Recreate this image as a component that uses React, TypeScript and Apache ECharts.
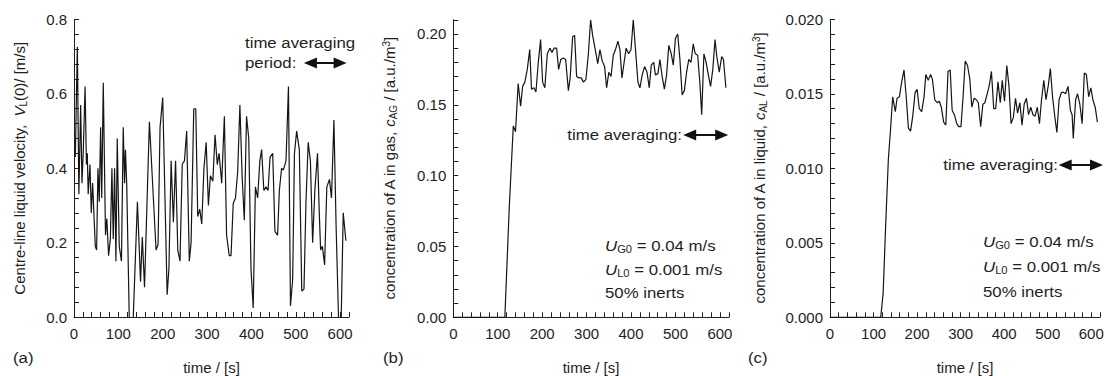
import React, { useEffect, useRef } from "react";
import * as echarts from "echarts";

// ---- data: [time s, value] ----
const velocityA: number[][] = [
  [3, 0.43], [7.5, 0.727], [11, 0.33], [15, 0.57], [18, 0.36], [21, 0.45], [25, 0.62], [28, 0.41],
  [30, 0.44], [32, 0.33], [36, 0.41], [39, 0.28], [42, 0.36], [48, 0.19], [51, 0.18], [54, 0.4],
  [57, 0.31], [60, 0.51], [62.5, 0.32], [66, 0.63], [71, 0.22], [74, 0.265], [78, 0.165], [82, 0.21],
  [85.5, 0.4], [88.5, 0.21], [91.5, 0.4], [94.5, 0.15], [97.5, 0.48], [102, 0.19], [107, 0.15],
  [111, 0.51], [114, 0.36], [116, 0.45], [119, 0.35], [125, -0.03], [133, -0.02], [143, 0.31],
  [150, 0.095], [154, 0.215], [159, 0.08], [170, 0.525], [185, 0.18], [189.5, 0.195], [194, 0.51],
  [200, 0.59], [210, 0.06], [214, 0.13], [219, 0.42], [224, 0.255], [229, 0.42], [234, 0.18],
  [239, 0.15], [244, 0.41], [249, 0.42], [254, 0.5], [260, 0.15], [264, 0.2], [270, 0.56],
  [274.5, 0.56], [279, 0.27], [283.5, 0.29], [288, 0.25], [293, 0.4], [298, 0.47], [303, 0.3],
  [307.5, 0.38], [313, 0.365], [318, 0.49], [323, 0.41], [327, 0.44], [333, 0.36], [339, 0.54],
  [344, 0.22], [350, 0.165], [354, 0.165], [359, 0.305], [364, 0.32], [369, 0.39], [374, 0.57],
  [379, 0.38], [384, 0.26], [389, 0.54], [394, 0.48], [399, 0.13], [404, 0.024], [409, 0.35],
  [414, 0.32], [419, 0.42], [423, 0.45], [428, 0.34], [433, 0.35], [437.5, 0.34], [442, 0.43],
  [448, 0.44], [453, 0.23], [459, 0.22], [463, 0.34], [468, 0.4], [472, 0.395], [478, 0.42],
  [483.5, 0.62], [488, 0.03], [493, 0.1], [497, 0.44], [502, 0.5], [508, 0.45], [513.5, 0.07],
  [518.5, 0.075], [523, 0.31], [528, 0.47], [533, 0.42], [538, 0.2], [543, 0.34], [549, 0.44],
  [553, 0.28], [556, 0.18], [560, 0.19], [565, 0.14], [570, 0.35], [576, 0.37], [580.5, 0.32],
  [586, 0.53], [591, 0.24], [597, -0.03], [602, -0.03], [607, 0.28], [613, 0.205],
];

const gasB: number[][] = [
  [0, 0], [116, 0], [126, 0.078], [135, 0.135], [140, 0.131], [146, 0.165], [151.5, 0.149],
  [156, 0.163], [161, 0.166], [166.5, 0.175], [172, 0.189], [176, 0.161], [181.5, 0.162],
  [186, 0.159], [191, 0.179], [196.5, 0.196], [201, 0.166], [206, 0.162], [211.5, 0.186],
  [217.5, 0.19], [222, 0.187], [227, 0.19], [232.5, 0.19], [237, 0.175], [242, 0.182],
  [247.5, 0.183], [252.8, 0.182], [259, 0.16], [263, 0.169], [268.5, 0.198], [273, 0.199],
  [277.5, 0.17], [283, 0.169], [288, 0.169], [293, 0.166], [298.5, 0.168], [304, 0.186],
  [309, 0.21], [313.5, 0.199], [319.5, 0.189], [325, 0.179], [330, 0.189], [335, 0.181],
  [340.5, 0.177], [345, 0.162], [350, 0.173], [355, 0.17], [360, 0.185], [365, 0.189],
  [370.5, 0.195], [375, 0.189], [379.5, 0.169], [384, 0.179], [389, 0.19], [394.5, 0.186],
  [400, 0.189], [405, 0.21], [410, 0.189], [415.5, 0.166], [420, 0.162], [425, 0.171],
  [430.5, 0.177], [436, 0.173], [441, 0.162], [445.5, 0.178], [451, 0.18], [455, 0.171],
  [460.5, 0.172], [465, 0.182], [470, 0.17], [475, 0.161], [480, 0.171], [485, 0.192],
  [490.5, 0.186], [495, 0.178], [500, 0.197], [505, 0.2], [510, 0.182], [515, 0.157],
  [520, 0.16], [525, 0.173], [530, 0.182], [535, 0.18], [540, 0.193], [544.5, 0.186],
  [550, 0.185], [555, 0.165], [559, 0.143], [564, 0.186], [569, 0.18], [574, 0.171],
  [579, 0.163], [584, 0.175], [589, 0.196], [593, 0.184], [598.5, 0.173], [604, 0.184],
  [608, 0.182], [613.5, 0.162],
];

const liquidC: number[][] = [
  [0, 0], [116.5, 0], [122, 0.0016], [128, 0.0063], [134, 0.0106], [139, 0.0126], [144, 0.0148],
  [150, 0.0138], [154, 0.0147], [159.4, 0.0148], [164.6, 0.0158], [170, 0.0166], [175, 0.0148],
  [180, 0.0127], [185, 0.0125], [190, 0.0135], [195.5, 0.0151], [200, 0.0153], [205, 0.014],
  [210.5, 0.0138], [216, 0.0148], [220, 0.0163], [225.5, 0.0159], [231, 0.0163], [235, 0.016],
  [240.6, 0.0146], [246, 0.0144], [251, 0.0145], [255.6, 0.0141], [261, 0.0131], [266, 0.0129],
  [271, 0.0165], [276, 0.0166], [280.5, 0.0139], [285.7, 0.0136], [291, 0.013], [295.5, 0.0128],
  [300.8, 0.0128], [306, 0.015], [310.5, 0.0172], [315.8, 0.0169], [321, 0.016], [325.6, 0.0141],
  [331, 0.0147], [336, 0.0146], [340.6, 0.0144], [346, 0.0128], [351, 0.0143], [355.6, 0.0144],
  [361, 0.015], [366, 0.0156], [370.7, 0.0165], [376, 0.014], [380.5, 0.014], [385.7, 0.0158],
  [391, 0.0144], [395.5, 0.0159], [400.8, 0.0145], [406, 0.0169], [411, 0.0155], [415.8, 0.013],
  [421, 0.0134], [426, 0.0147], [430.8, 0.0137], [436, 0.0144], [441, 0.0129], [445.9, 0.0143],
  [451, 0.0147], [456, 0.0136], [461, 0.0141], [466, 0.0136], [471, 0.0135], [476, 0.0141],
  [481, 0.013], [485.7, 0.0146], [491, 0.0159], [496, 0.0146], [501.5, 0.0156], [506, 0.0167],
  [511, 0.0148], [516.5, 0.0134], [521, 0.0124], [526, 0.0146], [531.6, 0.0151], [536, 0.0151],
  [541, 0.015], [546.6, 0.0155], [552, 0.0139], [556, 0.0136], [558.6, 0.012], [564, 0.0146],
  [568.4, 0.015], [573.7, 0.0143], [579, 0.013], [584, 0.0164], [588.7, 0.0163], [594, 0.0148],
  [599, 0.0154], [603.7, 0.0146], [609, 0.0141], [614, 0.0131],
];

// time-averaging arrows: [start, end, level]
const avgArrowA = [533, 600, 0.683];
const avgArrowB = [532, 604, 0.1287];
const avgArrowC = [540, 612, 0.01022];

const FONT = "Liberation Sans, Arial, sans-serif";
const INK = "#1e1e1e";
const SX = 1.12; // horizontal stretch of annotation texts

const isMult = (v: number, step: number) => Math.abs(v / step - Math.round(v / step)) < 1e-6;

const tick = { axisTick: { show: true, inside: true, length: 5, lineStyle: { color: INK, width: 1 } } };

function xAxisFor(gridIndex: number) {
  return {
    type: "value",
    gridIndex,
    min: 0,
    max: 620,
    interval: 20,
    name: "time / [s]",
    nameLocation: "middle",
    nameGap: 43,
    nameTextStyle: { fontFamily: FONT, fontSize: 15, color: INK, fontWeight: "normal" },
    axisLine: { show: true, onZero: false, lineStyle: { color: INK, width: 1 } },
    ...tick,
    axisLabel: {
      margin: 9,
      fontFamily: FONT,
      fontSize: 15,
      color: INK,
      formatter: (v: number) => (isMult(v, 100) ? String(Math.round(v)) : ""),
    },
    splitLine: { show: false },
  };
}

function yAxisFor(gridIndex: number, max: number, interval: number, labelStep: number, decimals: number, name: string, nameGap: number) {
  return {
    type: "value",
    gridIndex,
    min: 0,
    max,
    interval,
    name,
    nameLocation: "middle",
    nameRotate: 90,
    nameGap,
    nameTextStyle: {
      fontFamily: FONT,
      fontSize: 15,
      color: INK,
      fontWeight: "normal",
      rich: {
        i: { fontFamily: FONT, fontSize: 15, fontStyle: "italic", color: INK },
        sub: { fontFamily: FONT, fontSize: 10, color: INK, padding: [7, 0, 0, 0] },
        sup: { fontFamily: FONT, fontSize: 10, color: INK, padding: [0, 0, 7, 0] },
      },
    },
    axisLine: { show: true, onZero: false, lineStyle: { color: INK, width: 1 } },
    ...tick,
    axisLabel: {
      margin: 7,
      fontFamily: FONT,
      fontSize: 15,
      color: INK,
      formatter: (v: number) => (isMult(v, labelStep) ? v.toFixed(decimals) : ""),
    },
    splitLine: { show: false },
  };
}

function arrowLine(a: number[]) {
  return {
    silent: true,
    symbol: ["triangle", "triangle"],
    symbolSize: [11, 13],
    label: { show: false },
    lineStyle: { color: "#111", width: 2, type: "solid" },
    data: [[{ coord: [a[0], a[2]] }, { coord: [a[1], a[2]] }]],
  };
}

function txt(text: string, x: number, y: number, align = "left", rich?: any) {
  return {
    type: "text",
    x,
    y,
    scaleX: SX,
    silent: true,
    style: {
      text,
      fill: INK,
      fontFamily: FONT,
      fontSize: 15,
      align,
      verticalAlign: "middle",
      rich,
    },
  };
}

const uRich = {
  i: { fontFamily: FONT, fontSize: 15, fontStyle: "italic", fill: INK, color: INK },
  s: { fontFamily: FONT, fontSize: 10, fill: INK, color: INK, padding: [7, 0, 0, 0] },
};

export default function App() {
  const ref = useRef<HTMLDivElement>(null);
  useEffect(() => {
    if (!ref.current) return;
    const chart = echarts.init(ref.current, undefined, { renderer: "svg" });
    const lineStyle = { color: "#151515", width: 1.2 };
    const g = { containLabel: false, outerBoundsMode: "none" };
    chart.setOption({
      animation: false,
      backgroundColor: "#fff",
      grid: [
        { ...g, left: 74, top: 19.5, width: 275, height: 297.5 },
        { ...g, left: 453.3, top: 19.8, width: 275.5, height: 297.5 },
        { ...g, left: 830, top: 19.3, width: 270, height: 298 },
      ],
      xAxis: [xAxisFor(0), xAxisFor(1), xAxisFor(2)],
      yAxis: [
        yAxisFor(0, 0.8, 0.04, 0.2, 1, "Centre-line liquid velocity,  {i|V}{sub|L}(0)/ [m/s]", 46),
        yAxisFor(1, 0.21, 0.01, 0.05, 2, "concentration of A in gas, {i|c}{sub|AG} / [a.u./m{sup|3}]", 55),
        yAxisFor(2, 0.02, 0.001, 0.005, 3, "concentration of A in liquid, {i|c}{sub|AL} / [a.u./m{sup|3}]", 62),
      ],
      series: [
        {
          type: "line", xAxisIndex: 0, yAxisIndex: 0, data: velocityA, showSymbol: false,
          lineStyle, clip: true, markLine: arrowLine(avgArrowA),
        },
        {
          type: "line", xAxisIndex: 1, yAxisIndex: 1, data: gasB, showSymbol: false,
          lineStyle, clip: true, markLine: arrowLine(avgArrowB),
        },
        {
          type: "line", xAxisIndex: 2, yAxisIndex: 2, data: liquidC, showSymbol: false,
          lineStyle, clip: true, markLine: arrowLine(avgArrowC),
        },
      ],
      graphic: [
        txt("time averaging", 245, 43),
        txt("period:", 245, 63),
        txt("time averaging:", 682, 135, "right"),
        txt("time averaging:", 1058, 165, "right"),
        txt("{i|U}{s|G0} = 0.04 m/s", 605, 246, "left", uRich),
        txt("{i|U}{s|L0} = 0.001 m/s", 605, 270, "left", uRich),
        txt("50% inerts", 605, 293),
        txt("{i|U}{s|G0} = 0.04 m/s", 983, 242, "left", uRich),
        txt("{i|U}{s|L0} = 0.001 m/s", 983, 267, "left", uRich),
        txt("50% inerts", 983, 292),
        txt("(a)", 13, 358),
        txt("(b)", 383, 358),
        txt("(c)", 748, 358),
      ],
    });
    return () => chart.dispose();
  }, []);
  return (
    <div
      ref={ref}
      style={{ position: "fixed", left: 0, top: 0, width: 1104, height: 376, background: "#fff" }}
    />
  );
}
